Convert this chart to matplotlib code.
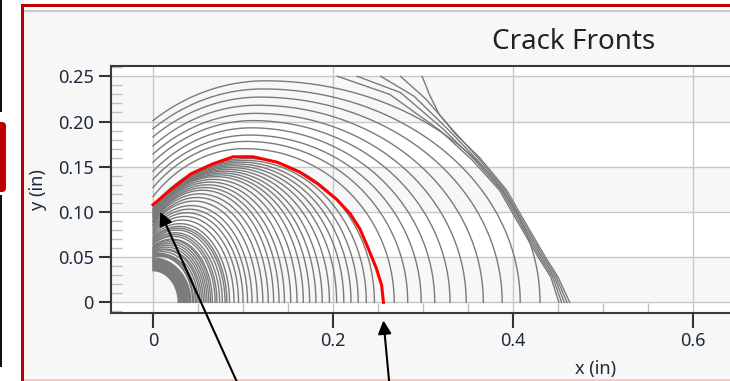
import matplotlib
matplotlib.use('Agg')
import matplotlib.pyplot as plt
import numpy as np
from matplotlib.patches import Rectangle, FancyBboxPatch
from matplotlib.ticker import MultipleLocator, FixedLocator, FuncFormatter

plt.rcParams['font.family'] = ['Noto Sans', 'DejaVu Sans']

# inner grey crack fronts: x where the front meets y=0, y where it meets x=0, max depth
front_x_end = [0.028, 0.029, 0.030, 0.031, 0.032, 0.033, 0.034, 0.035, 0.036, 0.037,
               0.038, 0.039, 0.040, 0.041, 0.042, 0.044, 0.045, 0.047, 0.048, 0.050,
               0.052, 0.054, 0.056, 0.058, 0.060, 0.062, 0.064, 0.066, 0.069, 0.071,
               0.074, 0.077, 0.080, 0.082,
               0.085, 0.090, 0.095, 0.100, 0.105, 0.110, 0.116, 0.122, 0.128, 0.134,
               0.140, 0.146, 0.153, 0.160, 0.167, 0.174, 0.181, 0.188, 0.196, 0.204,
               0.212, 0.220, 0.228, 0.237, 0.246]
front_y_start = [0.035, 0.036, 0.037, 0.038, 0.039, 0.040, 0.041, 0.042, 0.043, 0.044,
                 0.045, 0.046, 0.047, 0.048, 0.049, 0.050, 0.051, 0.052, 0.053, 0.054,
                 0.055, 0.056, 0.057, 0.058, 0.059, 0.060, 0.061, 0.062, 0.064, 0.065,
                 0.067, 0.068, 0.070, 0.071,
                 0.073, 0.075, 0.077, 0.079, 0.081, 0.083, 0.085, 0.086, 0.088, 0.089,
                 0.090, 0.091, 0.093, 0.094, 0.095, 0.096, 0.097, 0.098, 0.099, 0.100,
                 0.101, 0.102, 0.103, 0.104, 0.106]
front_depth = [0.035, 0.036, 0.037, 0.038, 0.039, 0.040, 0.041, 0.042, 0.043, 0.044,
               0.045, 0.046, 0.047, 0.048, 0.049, 0.051, 0.052, 0.053, 0.054, 0.056,
               0.058, 0.059, 0.061, 0.063, 0.065, 0.067, 0.069, 0.070, 0.073, 0.075,
               0.077, 0.080, 0.082, 0.084,
               0.087, 0.091, 0.095, 0.099, 0.103, 0.107, 0.112, 0.116, 0.120, 0.124,
               0.127, 0.130, 0.133, 0.136, 0.139, 0.141, 0.143, 0.145, 0.147, 0.149,
               0.151, 0.153, 0.155, 0.157, 0.159]

# outer grey fronts (beyond the red one), with the x of their deepest point
outer_x_end = [0.268, 0.283, 0.298, 0.313, 0.330, 0.348, 0.367, 0.388, 0.408, 0.430]
outer_y_start = [0.117, 0.127, 0.136, 0.145, 0.155, 0.164, 0.173, 0.183, 0.192, 0.201]
outer_depth = [0.170, 0.178, 0.185, 0.193, 0.201, 0.209, 0.218, 0.227, 0.236, 0.245]
outer_peak_x = [0.102, 0.104, 0.107, 0.109, 0.111, 0.114, 0.116, 0.119, 0.122, 0.125]

# highlighted front
red_x = [0, 0.019, 0.042, 0.066, 0.089, 0.111, 0.138, 0.163, 0.183, 0.204,
         0.219, 0.230, 0.239, 0.248, 0.254, 0.256]
red_y = [0.108, 0.124, 0.142, 0.153, 0.161, 0.161, 0.155, 0.144, 0.131, 0.114,
         0.098, 0.081, 0.060, 0.038, 0.019, 0.0]

# fronts after breakthrough at the back face (y = 0.25)
bt_x = [
    [0.205, 0.263, 0.319, 0.355, 0.385, 0.404, 0.428, 0.442, 0.451],
    [0.227, 0.275, 0.322, 0.357, 0.387, 0.406, 0.430, 0.444, 0.454],
    [0.253, 0.290, 0.326, 0.359, 0.389, 0.408, 0.432, 0.446, 0.457],
    [0.275, 0.303, 0.330, 0.361, 0.391, 0.410, 0.434, 0.448, 0.460],
    [0.299, 0.307, 0.318, 0.336, 0.363, 0.393, 0.412, 0.436, 0.450, 0.463],
]
bt_y = [
    [0.250, 0.230, 0.190, 0.157, 0.124, 0.091, 0.050, 0.028, 0.0],
    [0.250, 0.232, 0.192, 0.158, 0.124, 0.091, 0.050, 0.028, 0.0],
    [0.250, 0.228, 0.193, 0.159, 0.124, 0.091, 0.050, 0.028, 0.0],
    [0.250, 0.225, 0.194, 0.160, 0.124, 0.091, 0.050, 0.028, 0.0],
    [0.250, 0.230, 0.208, 0.186, 0.160, 0.124, 0.091, 0.050, 0.028, 0.0],
]

x_ticks = [0, 0.2, 0.4, 0.6]

# arrow targets (data coords) and tails (figure pixels)
arrow_tips = [(0.008, 0.100), (0.256, -0.020)]
arrow_tails = [(241, -10), (390, -10)]


def ellipse_front(x_end, y_start, depth):
    k = np.sqrt(max(0.0, 1 - (y_start / depth) ** 2))
    xc = x_end * k / (1 + k)
    a = x_end - xc
    t0 = np.arccos(-xc / a)
    t = np.linspace(0, t0, 80)
    return xc + a * np.cos(t), depth * np.sin(t)


def skewed_front(x_end, y_start, depth, xp):
    # two half ellipses joined at the deepest point
    a_l = xp / np.sqrt(1 - (y_start / depth) ** 2)
    a_r = x_end - xp
    tl = np.linspace(np.arccos(-xp / a_l), np.pi / 2, 40)
    tr = np.linspace(np.pi / 2, 0, 60)
    fx = np.concatenate([xp + a_l * np.cos(tl), xp + a_r * np.cos(tr)])
    fy = np.concatenate([depth * np.sin(tl), depth * np.sin(tr)])
    return fx, fy


W, H = 730, 381
fig = plt.figure(figsize=(W / 100, H / 100), dpi=100, facecolor='white')

# window chrome in pixel coords
bg = fig.add_axes([0, 0, 1, 1], zorder=-1)
bg.set_xlim(0, W)
bg.set_ylim(H, 0)
bg.axis('off')
bg.add_patch(Rectangle((24, 7), W, H, color='#f7f7f7', lw=0))
bg.add_patch(Rectangle((24, 7), W, 3, color='white', lw=0))
bg.add_patch(Rectangle((24, 10), W, 1.6, color='#c9c9c9', lw=0))
bg.add_patch(Rectangle((20.7, 4), W, 3.3, color='#c00000', lw=0))
bg.add_patch(Rectangle((20.7, 4), 3.3, H, color='#c00000', lw=0))
bg.add_patch(Rectangle((24, 378.5), W, 2.5, color='#f6c9c9', lw=0))
bg.add_patch(Rectangle((0, 0), 2, 112, color='#111111', lw=0))
bg.add_patch(Rectangle((0, 195), 2, 172, color='#111111', lw=0))
bg.add_patch(FancyBboxPatch((-6, 122), 12, 70, boxstyle='round,pad=0,rounding_size=4',
                            color='#c00000', lw=0))

fig.text(574, H - 42, 'Crack Fronts', transform=None, ha='center', va='center',
         fontsize=20, color='#222222')

# main axes, right side runs past the window edge
x0 = 111
ax = fig.add_axes([x0 / W, (H - 313) / H, 968 / W, 247 / H], zorder=1)
ax.set_xlim(-0.0467, 1.0289)
ax.set_ylim(-0.0118, 0.2614)
ax.set_facecolor('white')
for lo in [0.0, 0.10, 0.20]:
    ax.axhspan(lo, lo + 0.05, color='#f7f7f7', lw=0, zorder=0)

ax.set_axisbelow(True)
ax.grid(True, which='major', color='#c8c8c8', lw=1.0)
ax.xaxis.set_major_locator(FixedLocator(x_ticks))
ax.yaxis.set_major_locator(MultipleLocator(0.05))
ax.xaxis.set_minor_locator(MultipleLocator(0.05))
ax.yaxis.set_minor_locator(MultipleLocator(0.01))
ax.xaxis.set_major_formatter(FuncFormatter(lambda v, p: '0' if abs(v) < 1e-9 else f'{v:g}'))
ax.yaxis.set_major_formatter(FuncFormatter(lambda v, p: '0' if abs(v) < 1e-9 else f'{v:.2f}'))
ax.tick_params(which='major', direction='out', color='#333333', width=1.5,
               labelsize=13, labelcolor='#1e2a3a')
ax.tick_params(axis='y', which='major', length=8.6, pad=4)
ax.tick_params(axis='x', which='major', length=10.8, pad=3)
ax.tick_params(which='minor', direction='in', color='#c0c0c0', width=1.0)
ax.tick_params(axis='y', which='minor', length=8)
ax.tick_params(axis='x', which='minor', length=7)
for s in ['left', 'top', 'bottom', 'right']:
    ax.spines[s].set_color('#3a3a3a')
    ax.spines[s].set_linewidth(1.5)

ax.set_xlabel('x (in)', fontsize=13, color='#1e2a3a')
ax.set_ylabel('y (in)', fontsize=13, color='#1e2a3a', labelpad=8)
ax.xaxis.set_label_coords((596 - x0) / 968, -0.19)

grey = '#7a7a7a'
for xe, ys, d in zip(front_x_end, front_y_start, front_depth):
    fx, fy = ellipse_front(xe, ys, d)
    ax.plot(fx, fy, color=grey, lw=1.0, zorder=2)
for xe, ys, d, xp in zip(outer_x_end, outer_y_start, outer_depth, outer_peak_x):
    fx, fy = skewed_front(xe, ys, d, xp)
    ax.plot(fx, fy, color=grey, lw=1.0, zorder=2)
for bx, by in zip(bt_x, bt_y):
    ax.plot(bx, by, color=grey, lw=1.0, zorder=2)
ax.plot(red_x, red_y, color='#ff0000', lw=2.2, zorder=3)

for tip, tail in zip(arrow_tips, arrow_tails):
    ax.annotate('', xy=tip, xycoords='data', xytext=tail, textcoords='figure pixels',
                arrowprops=dict(arrowstyle='-|>', color='black', lw=1.5,
                                mutation_scale=20, shrinkA=0, shrinkB=0),
                annotation_clip=False, zorder=10)

fig.savefig('out.png', dpi=100, facecolor='white')
